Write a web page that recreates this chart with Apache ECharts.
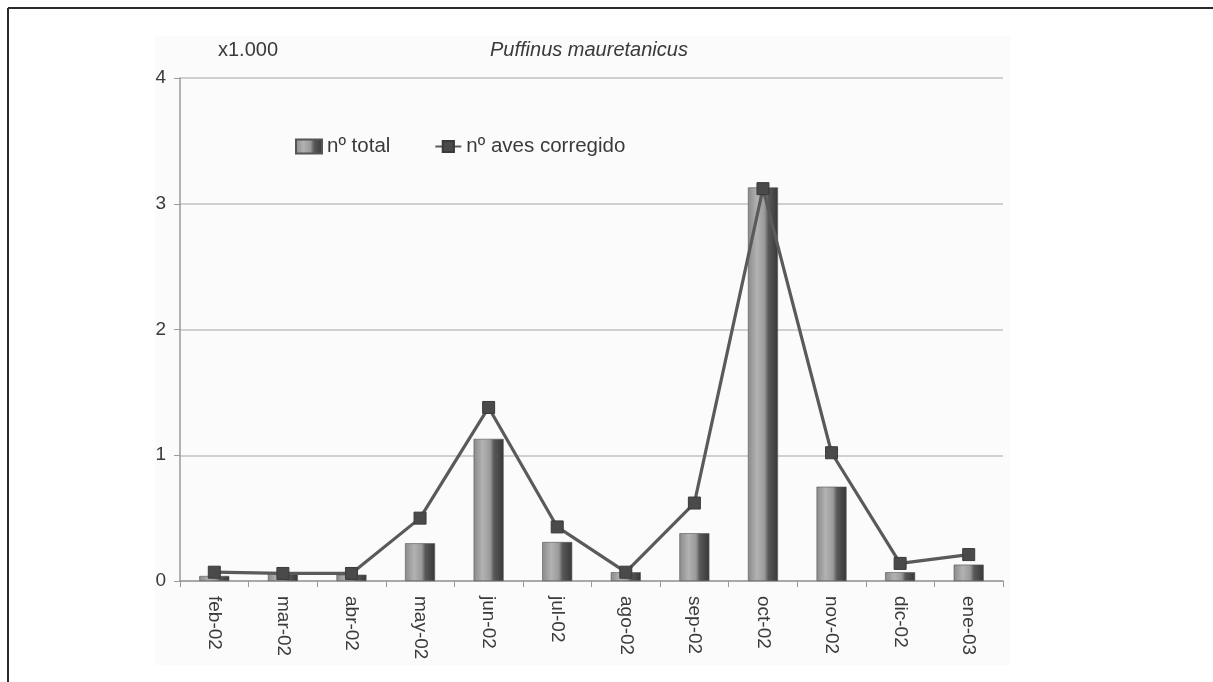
<!DOCTYPE html>
<html>
<head>
<meta charset="utf-8">
<script src="https://cdn.jsdelivr.net/npm/echarts@6/dist/echarts.min.js"></script>
<style>
  html, body { margin: 0; padding: 0; background: #ffffff; }
  #chart { width: 1213px; height: 682px; }
</style>
</head>
<body>
<div id="chart"></div>
<script>
// Monthly counts of Puffinus mauretanicus (thousands of birds)
const months = ['feb-02', 'mar-02', 'abr-02', 'may-02', 'jun-02', 'jul-02',
                'ago-02', 'sep-02', 'oct-02', 'nov-02', 'dic-02', 'ene-03'];
const totalBirds = [0.04, 0.06, 0.05, 0.30, 1.13, 0.31, 0.07, 0.38, 3.13, 0.75, 0.07, 0.13];
const correctedBirds = [0.07, 0.06, 0.06, 0.50, 1.38, 0.43, 0.07, 0.62, 3.12, 1.02, 0.14, 0.21];
const yTicks = [0, 1, 2, 3, 4];

const FONT = '"Liberation Sans", Arial, sans-serif';
const TXT = '#3a3a3a';

const barFill = new echarts.graphic.LinearGradient(0, 0, 1, 0, [
  { offset: 0.00, color: '#8a8a8a' },
  { offset: 0.30, color: '#b2b2b2' },
  { offset: 0.55, color: '#9a9a9a' },
  { offset: 0.68, color: '#585858' },
  { offset: 1.00, color: '#383838' }
]);

const chart = echarts.init(document.getElementById('chart'), null, { renderer: 'canvas' });

chart.setOption({
  backgroundColor: '#ffffff',
  animation: false,
  textStyle: { fontFamily: FONT, color: TXT },
  graphic: [
    // soft panel behind the chart
    { type: 'rect', z: -10, shape: { x: 155, y: 36, width: 855, height: 629 },
      style: { fill: '#fbfbfb' } },
    // page frame (top and left rules)
    { type: 'line', z: 10, shape: { x1: 8, y1: 8, x2: 1213, y2: 8 },
      style: { stroke: '#2a2a2a', lineWidth: 2 } },
    { type: 'line', z: 10, shape: { x1: 8, y1: 8, x2: 8, y2: 682 },
      style: { stroke: '#2a2a2a', lineWidth: 2 } },
    // unit note above the value axis
    { type: 'text', x: 218, y: 50, style: {
        text: 'x1.000', font: '20px ' + FONT, fill: TXT, verticalAlign: 'middle' } },
    // species name
    { type: 'text', x: 490, y: 50, style: {
        text: 'Puffinus mauretanicus', font: 'italic 20px ' + FONT, fill: TXT,
        align: 'left', verticalAlign: 'middle' } }
  ],
  legend: {
    left: 290, top: 131,
    itemWidth: 26, itemHeight: 14, itemGap: 44,
    textStyle: { fontFamily: FONT, fontSize: 20.5, color: TXT },
    data: [
      { name: 'nº total', icon: 'rect' },
      { name: 'nº aves corregido' }
    ]
  },
  grid: { left: 180, right: 210, top: 78, bottom: 101, containLabel: false },
  xAxis: {
    type: 'category',
    data: months,
    boundaryGap: true,
    axisLine: { lineStyle: { color: '#9a9a9a', width: 1.5 } },
    axisTick: { show: true, alignWithLabel: false, length: 6, lineStyle: { color: '#9a9a9a' } },
    axisLabel: { rotate: -90, margin: 15, fontSize: 19, color: TXT, fontFamily: FONT }
  },
  yAxis: {
    type: 'value',
    min: yTicks[0], max: yTicks[yTicks.length - 1], interval: 1,
    axisLine: { show: true, lineStyle: { color: '#9a9a9a', width: 1.5 } },
    axisTick: { show: true, length: 6, lineStyle: { color: '#9a9a9a' } },
    axisLabel: { margin: 14, fontSize: 19, color: TXT, fontFamily: FONT },
    splitLine: { lineStyle: { color: '#c2c2c2', width: 1.5 } }
  },
  series: [
    {
      name: 'nº total',
      type: 'bar',
      data: totalBirds,
      barWidth: 30,
      itemStyle: { color: barFill, borderColor: '#555', borderWidth: 0.6 },
      z: 2
    },
    {
      name: 'nº aves corregido',
      type: 'line',
      data: correctedBirds,
      symbol: 'rect',
      symbolSize: 12,
      lineStyle: { color: '#5a5a5a', width: 3.2 },
      itemStyle: { color: '#4a4a4a', borderColor: '#3a3a3a', borderWidth: 1 },
      z: 3
    }
  ]
});
</script>
</body>
</html>
